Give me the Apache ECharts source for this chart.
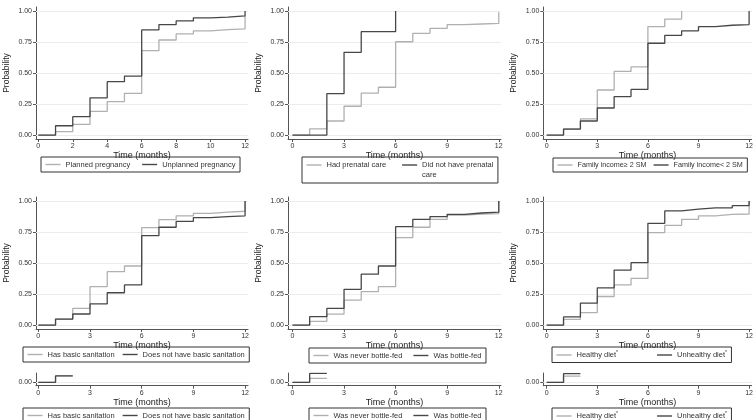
<!DOCTYPE html>
<html>
<head>
<meta charset="utf-8">
<script src="https://cdn.jsdelivr.net/npm/echarts@6/dist/echarts.min.js"></script>
<style>
  html, body { margin: 0; padding: 0; background: #fff; }
  #chart { width: 756px; height: 420px; }
</style>
</head>
<body>
<div id="chart"></div>
<script>
// tempo (meses) e marcas dos eixos
const months = [0, 1, 2, 3, 4, 5, 6, 7, 8, 9, 10, 11, 12];
const yTicks = [0, 0.25, 0.5, 0.75, 1];
const xTicksBy2 = [0, 2, 4, 6, 8, 10, 12];
const xTicksBy3 = [0, 3, 6, 9, 12];

// probabilidade acumulada, um valor por mês
const planned = [0, 0.027, 0.086, 0.19, 0.27, 0.335, 0.68, 0.766, 0.815, 0.84, 0.85, 0.855, 0.96];
const unplanned = [0, 0.075, 0.148, 0.30, 0.43, 0.475, 0.847, 0.89, 0.92, 0.945, 0.95, 0.96, 1.0];

const prenatal = [0, 0.05, 0.113, 0.232, 0.337, 0.385, 0.752, 0.82, 0.86, 0.89, 0.895, 0.9, 0.99];
const noPrenatal = [0, 0, 0.333, 0.667, 0.833, 0.833, 1.0];

const incomeHigh = [0, 0.05, 0.13, 0.363, 0.513, 0.55, 0.874, 0.935, 1.0];
const incomeLow = [0, 0.048, 0.113, 0.218, 0.31, 0.368, 0.74, 0.804, 0.84, 0.874, 0.885, 0.89, 1.0];

const sanitation = [0, 0.048, 0.134, 0.31, 0.43, 0.476, 0.785, 0.85, 0.88, 0.9, 0.91, 0.917, 1.0];
const noSanitation = [0, 0.048, 0.089, 0.17, 0.26, 0.323, 0.72, 0.788, 0.836, 0.866, 0.874, 0.88, 1.0];

const neverBottle = [0, 0.03, 0.088, 0.2, 0.27, 0.31, 0.705, 0.788, 0.852, 0.887, 0.895, 0.898, 1.0];
const bottle = [0, 0.067, 0.134, 0.288, 0.41, 0.476, 0.793, 0.852, 0.874, 0.892, 0.903, 0.91, 1.0];

const healthy = [0, 0.046, 0.1, 0.23, 0.323, 0.376, 0.745, 0.804, 0.852, 0.88, 0.892, 0.895, 1.0];
const unhealthy = [0, 0.065, 0.177, 0.3, 0.443, 0.503, 0.82, 0.92, 0.935, 0.944, 0.944, 0.962, 1.0];

const LIGHT = '#b0b0b0';
const DARK = '#474747';
const AXIS = '#555';
const FONT = 'Liberation Sans';

function km(vals) {
  return vals.map((v, i) => [months[i], v]);
}
// a linha cortada da última fileira: só até o 2º mês
function stub(vals) {
  return [[0, vals[0]], [1, vals[1]], [2, vals[1]]];
}

// posição dos painéis (px)
const cols = [
  { left: 36, width: 212, min: -0.134, max: 12.17 },
  { left: 288, width: 213, min: -0.26, max: 12.13 },
  { left: 543.3, width: 212.7, min: -0.2, max: 12.15 }
];
const rows = [
  { top: 7, height: 132, ymin: -0.032, ymax: 1.032, ticks: yTicks, name: 'Probability' },
  { top: 197, height: 132, ymin: -0.032, ymax: 1.032, ticks: yTicks, name: 'Probability' },
  { top: 373, height: 12.7, ymin: -0.0256, ymax: 0.07, ticks: [0], name: '' }
];

const panels = [
  { r: 0, c: 0, xt: xTicksBy2, a: ['Planned pregnancy', planned], b: ['Unplanned pregnancy', unplanned], lg: { left: 41, top: 157, gap: 12 } },
  { r: 0, c: 1, xt: xTicksBy3, a: ['Had prenatal care', prenatal], b: ['Did not have prenatal care', noPrenatal], lg: { left: 302, top: 157, gap: 16 } },
  { r: 0, c: 2, xt: xTicksBy3, a: ['Family income\u2265 2 SM', incomeHigh], b: ['Family income< 2 SM', incomeLow], lg: { left: 553, top: 158, gap: 7, fs: 7.2 } },
  { r: 1, c: 0, xt: xTicksBy3, a: ['Has basic sanitation', sanitation], b: ['Does not have basic sanitation', noSanitation], lg: { left: 23, top: 347, gap: 8 } },
  { r: 1, c: 1, xt: xTicksBy3, a: ['Was never bottle-fed', neverBottle], b: ['Was bottle-fed', bottle], lg: { left: 309, top: 348, gap: 11 } },
  { r: 1, c: 2, xt: xTicksBy3, a: ['Healthy diet', healthy], b: ['Unhealthy diet', unhealthy], lg: { left: 552, top: 347, gap: 39 }, sup: true },
  { r: 2, c: 0, xt: xTicksBy3, a: ['Has basic sanitation', sanitation], b: ['Does not have basic sanitation', noSanitation], lg: { left: 23, top: 408, gap: 8 }, cut: true },
  { r: 2, c: 1, xt: xTicksBy3, a: ['Was never bottle-fed', neverBottle], b: ['Was bottle-fed', bottle], lg: { left: 309, top: 408, gap: 11 }, cut: true },
  { r: 2, c: 2, xt: xTicksBy3, a: ['Healthy diet', healthy], b: ['Unhealthy diet', unhealthy], lg: { left: 552, top: 408, gap: 39 }, sup: true, cut: true }
];

const grid = [], xAxis = [], yAxis = [], series = [], legend = [];

panels.forEach((p, i) => {
  const col = cols[p.c], row = rows[p.r];
  grid.push({ left: col.left, top: row.top, width: col.width, height: row.height });
  xAxis.push({
    type: 'value', gridIndex: i, min: col.min, max: col.max,
    name: 'Time (months)', nameLocation: 'middle', nameGap: 7.5,
    nameTextStyle: { fontSize: 9, color: '#222', fontFamily: FONT },
    axisLine: { onZero: false, lineStyle: { color: AXIS, width: 1 } },
    axisTick: { show: true, length: 3, customValues: p.xt, lineStyle: { color: AXIS } },
    axisLabel: { customValues: p.xt, fontSize: 7, color: '#333', margin: 4, fontFamily: FONT },
    splitLine: { show: false }
  });
  yAxis.push({
    type: 'value', gridIndex: i, min: row.ymin, max: row.ymax,
    name: row.name, nameLocation: 'middle', nameGap: 25,
    nameTextStyle: { fontSize: 8.5, color: '#222', fontFamily: FONT },
    axisLine: { show: true, onZero: false, lineStyle: { color: AXIS, width: 1 } },
    axisTick: { show: true, length: 3, customValues: row.ticks, lineStyle: { color: AXIS } },
    axisLabel: { customValues: row.ticks, fontSize: 7, color: '#333', margin: 4, fontFamily: FONT,
      formatter: v => v.toFixed(2) },
    splitLine: { show: false }
  });
  const mk = p.cut ? stub : km;
  [[p.a, LIGHT], [p.b, DARK]].forEach(([s, color], k) => {
    series.push({
      type: 'line', name: s[0], xAxisIndex: i, yAxisIndex: i,
      data: mk(s[1]), step: 'end', symbol: 'none', showSymbol: false,
      lineStyle: { color, width: 1.3 }, itemStyle: { color },
      z: 2 + k, silent: true, animation: false,
      markLine: k === 0 ? {
        silent: true, symbol: 'none', z: 1, animation: false,
        label: { show: false },
        lineStyle: { color: '#ececec', width: 1, type: 'solid' },
        data: row.ticks.map(v => ({ yAxis: v }))
      } : undefined
    });
  });
  const fs = p.lg.fs || 7.5;
  const lg = {
    left: p.lg.left, top: p.lg.top, width: 400, orient: 'horizontal',
    data: [p.a[0], p.b[0]], selectedMode: false,
    icon: 'rect', itemWidth: 15, itemHeight: 1.4, itemGap: p.lg.gap,
    padding: [3.5, 4.5], borderColor: '#333', borderWidth: 1,
    textStyle: { fontSize: fs, color: '#333', fontFamily: FONT }
  };
  if (p.sup) {
    lg.formatter = n => '{t|' + n + '}{s|*}';
    lg.textStyle.rich = {
      t: { fontSize: fs, lineHeight: 9, color: '#333', fontFamily: FONT },
      s: { fontSize: 5, lineHeight: 5, verticalAlign: 'top', color: '#333', fontFamily: FONT }
    };
  }
  if (p.r === 0 && p.c === 1) {
    // linha em branco em cima: a 1ª linha do texto fica na altura do ícone
    lg.textStyle.lineHeight = 10;
    lg.padding = [-7, 4.5, 3, 4.5];
    lg.formatter = n => n === p.b[0] ? ' \nDid not have prenatal\ncare' : n;
  }
  legend.push(lg);
});

const chart = echarts.init(document.getElementById('chart'), null, { renderer: 'canvas' });
chart.setOption({
  backgroundColor: '#fff',
  animation: false,
  grid, xAxis, yAxis, series, legend
});
</script>
</body>
</html>
